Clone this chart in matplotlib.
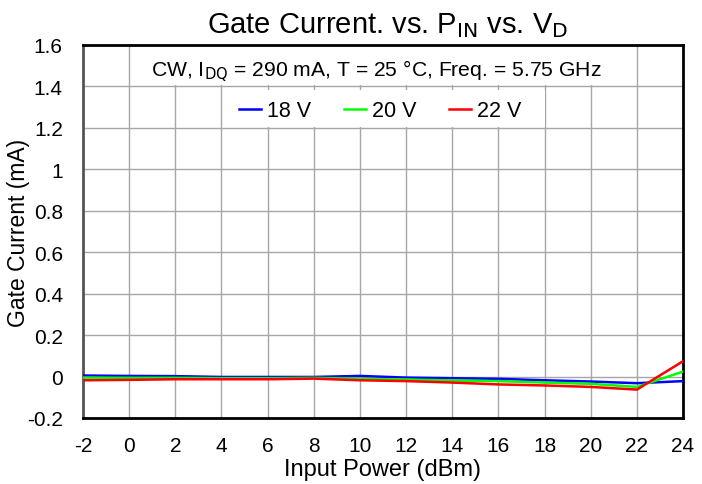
import matplotlib
matplotlib.use("Agg")
import matplotlib.pyplot as plt
from matplotlib.patches import Rectangle

plt.rcParams['font.family'] = ['Liberation Sans', 'DejaVu Sans']

pin = [-2, 0, 2, 4, 6, 8, 10, 12, 14, 16, 18, 20, 22, 24]
ig_18v = [0.005, 0.003, 0.002, -0.002, -0.002, -0.002, 0.003, -0.005, -0.008, -0.011, -0.018, -0.024, -0.032, -0.022]
ig_20v = [-0.005, -0.006, -0.006, -0.008, -0.008, -0.006, -0.011, -0.014, -0.019, -0.022, -0.029, -0.035, -0.050, 0.024]
ig_22v = [-0.018, -0.016, -0.013, -0.013, -0.013, -0.010, -0.018, -0.022, -0.029, -0.038, -0.043, -0.050, -0.063, 0.074]
series_labels = ['18 V', '20 V', '22 V']
xticks = [-2, 0, 2, 4, 6, 8, 10, 12, 14, 16, 18, 20, 22, 24]
yticks = [-0.2, 0, 0.2, 0.4, 0.6, 0.8, 1, 1.2, 1.4, 1.6]
ytick_labels = ['-0.2', '0', '0.2', '0.4', '0.6', '0.8', '1', '1.2', '1.4', '1.6']

fig = plt.figure(figsize=(7.02, 4.85), dpi=100)
ax = fig.add_axes([83/702, 1-419/485, (683-83)/702, (419-46)/485])

colors = ['#0000ff', '#00ff00', '#ff0000']
for ys, lab, c in zip([ig_18v, ig_20v, ig_22v], series_labels, colors):
    ax.plot(pin, ys, color=c, lw=1.8, label=lab, zorder=3)

ax.set_xlim(-2, 24)
ax.set_ylim(-0.2, 1.6)
ax.set_xticks(xticks)
ax.set_xticklabels([str(v) for v in xticks])
ax.set_yticks(yticks)
ax.set_yticklabels(ytick_labels)
ax.tick_params(axis='x', length=0, labelsize=15, pad=13)
ax.tick_params(axis='y', length=0, labelsize=15, pad=14.5)
ax.grid(True, color='#a6a6a6', lw=1)
ax.set_axisbelow(True)
for s in ['top', 'right', 'bottom']:
    ax.spines[s].set_color('black')
    ax.spines[s].set_linewidth(2)
ax.spines['left'].set_color('#555555')
ax.spines['left'].set_linewidth(2)

ax.set_xlabel('Input Power (dBm)', fontsize=17, labelpad=2)
ax.set_ylabel('Gate Current (mA)', fontsize=16.5, labelpad=-2)
ax.set_title('Gate Current. vs. P$_{\\mathrm{IN}}$ vs. V$_{\\mathrm{D}}$', fontsize=21, pad=9, x=0.507)

# white backgrounds behind annotation and legend (hide gridlines)
ax.add_patch(Rectangle((0.112, 0.893), 0.755, 0.101, transform=ax.transAxes,
                       facecolor='white', edgecolor='none', zorder=1.5))
ax.add_patch(Rectangle((0.237, 0.780), 0.533, 0.099, transform=ax.transAxes,
                       facecolor='white', edgecolor='none', zorder=1.5))

ax.text(0.489, 0.9196, 'CW, I$_{\\mathrm{DQ}}$ = 290 mA, T = 25 °C, Freq. = 5.75 GHz',
        transform=ax.transAxes, ha='center', va='baseline', fontsize=15.2, zorder=4)

leg = ax.legend(loc='center', bbox_to_anchor=(0.495, 0.824), ncol=3, frameon=False,
                fontsize=15.5, handlelength=1.02, handletextpad=0.28, columnspacing=1.53,
                borderaxespad=0, borderpad=0)

fig.savefig('out.png', dpi=100)
